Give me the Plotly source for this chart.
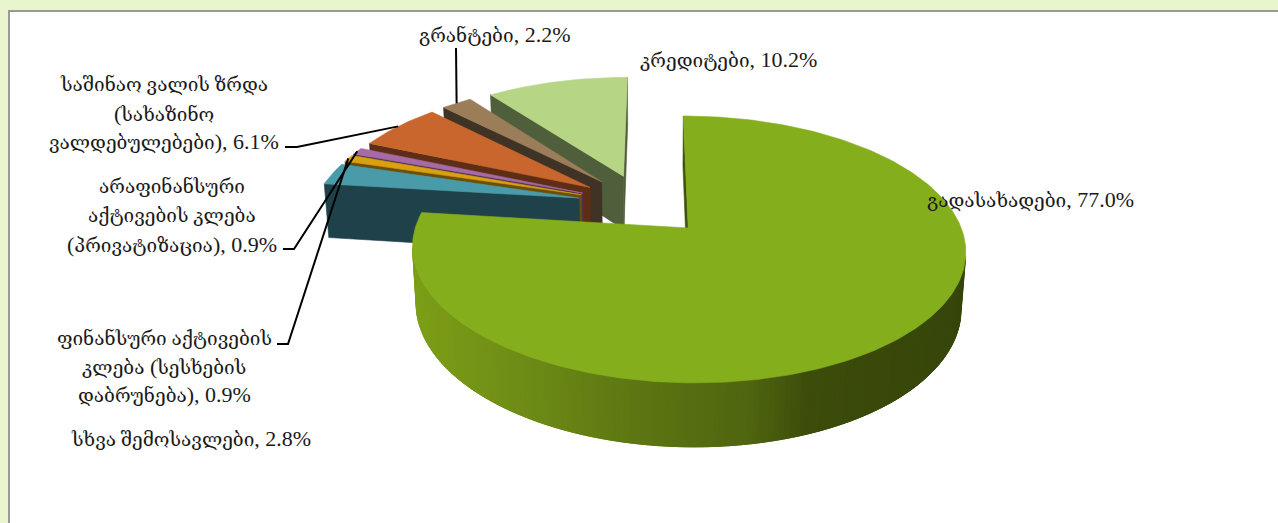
import math
import re
import plotly.graph_objects as go

# Budget revenue shares, clockwise from twelve o'clock
names = [
    "გადასახადები",
    "სხვა შემოსავლები",
    "ფინანსური აქტივების\nკლება (სესხების\nდაბრუნება)",
    "არაფინანსური\nაქტივების კლება\n(პრივატიზაცია)",
    "საშინაო ვალის ზრდა\n(სახაზინო\nვალდებულებები)",
    "გრანტები",
    "კრედიტები",
]
shares = [77.0, 2.8, 0.9, 0.9, 6.1, 2.2, 10.2]
top_colors = ["#84AE1C", "#4A9BA9", "#D9A00F", "#A66BA6", "#C8662E", "#9B7E59", "#B6D585"]
wall_colors = ["#3F5409", "#1F424A", "#6B4E08", "#50304F", "#5E2D15", "#3E3324", "#4F5E3B"]

# Per-label layout: centre x, baseline row y for each text line
label_layout = [
    (1030, [199]),
    (191, [438]),
    (164, [338, 366, 394]),
    (172, [186, 215, 244]),
    (164, [84, 113, 141]),
    (494, [34]),
    (728, [59]),
]
# Leader lines: horizontal stub start and elbow, then on to the slice rim
leaders = {
    2: [(277, 344), (288, 344)],
    3: [(283, 249), (294, 249)],
    4: [(285, 147), (297, 147)],
    5: [(456, 48), (456, 48)],
}

# Projection of the tilted disc
XC, YC = 653, 228
B, C = 273, 35
A, K = 130, 0.161
WALL_D, WALL_M = 57, 0.015
EXPLODE = 0.25
CENTRE = (-0.165, -0.1875)


def project(u, v, low=False):
    d = 1 - K * v + (WALL_M if low else 0)
    x = XC + (B * u + C) / d
    y = YC + (A * v + (WALL_D if low else 0)) / d
    return x, y


def polar(deg):
    t = math.radians(deg)
    return math.sin(t), -math.cos(t)


def lerp_color(stops, x):
    if x <= stops[0][0]:
        return stops[0][1]
    for (x0, c0), (x1, c1) in zip(stops, stops[1:]):
        if x <= x1:
            f = (x - x0) / (x1 - x0)
            a = [int(c0[i:i + 2], 16) for i in (1, 3, 5)]
            b = [int(c1[i:i + 2], 16) for i in (1, 3, 5)]
            return "#%02X%02X%02X" % tuple(round(p + (q - p) * f) for p, q in zip(a, b))
    return stops[-1][1]


# Shading across the curved wall of the largest slice
wall_ramp = [(413, "#7D9E17"), (520, "#6E8C16"), (640, "#5C7612"),
             (750, "#4F650F"), (810, "#3C4C0A"), (970, "#36450A")]

fig = go.Figure()


def patch(pts, color, stroke=0.6):
    xs = [p[0] for p in pts] + [pts[0][0]]
    ys = [p[1] for p in pts] + [pts[0][1]]
    fig.add_trace(go.Scatter(x=xs, y=ys, mode="lines", fill="toself", fillcolor=color,
                             line=dict(color=color, width=stroke), hoverinfo="skip",
                             showlegend=False))


def screen_area(pts):
    return sum(pts[i][0] * pts[(i + 1) % len(pts)][1] - pts[(i + 1) % len(pts)][0] * pts[i][1]
               for i in range(len(pts))) / 2


total = sum(shares)
spans = []
angle = 0.0
for s in shares:
    spans.append((angle, angle + s / total * 360))
    angle = spans[-1][1]

rim_mid = {}
for i in reversed(range(len(shares))):
    a0, a1 = spans[i]
    mid = (a0 + a1) / 2
    mu, mv = polar(mid)
    ou, ov = CENTRE[0] + EXPLODE * mu, CENTRE[1] + EXPLODE * mv
    n = max(4, int(a1 - a0))
    rim = [(ou + polar(a0 + (a1 - a0) * j / n)[0], ov + polar(a0 + (a1 - a0) * j / n)[1])
           for j in range(n + 1)]
    rim_mid[i] = project(ou + mu, ov + mv)

    def wall(p, q, color=None, far=None):
        # far lets a strip run on under its neighbour so no seam shows between them
        end = far or q
        quad = [project(*p), project(*end), project(*end, low=True), project(*p, low=True)]
        if screen_area([project(*p), project(*q), project(*q, low=True), project(*p, low=True)]) < 0:
            patch(quad, color or wall_colors[i])

    # Straight cut faces first, then the curved rim, then the lid
    wall((ou, ov), rim[0])
    wall(rim[-1], (ou, ov))
    for j, (p, q) in enumerate(zip(rim, rim[1:])):
        mx = (project(*p)[0] + project(*q)[0]) / 2
        color = lerp_color(wall_ramp, mx) if i == 0 else wall_colors[i]
        wall(p, q, color, far=rim[min(j + 3, n)])
    patch([project(ou, ov)] + [project(*p) for p in rim], top_colors[i])

# Leader lines
for i, (start, elbow) in leaders.items():
    end = rim_mid[i]
    fig.add_trace(go.Scatter(x=[start[0], elbow[0], end[0]], y=[start[1], elbow[1], end[1]],
                             mode="lines", line=dict(color="#000000", width=2),
                             hoverinfo="skip", showlegend=False))


def styled(line):
    # Georgian runs sit a little smaller than the Latin numerals beside them
    return re.sub("[\u10A0-\u10FF]+(?: [\u10A0-\u10FF]+)*",
                  lambda m: f'<span style="font-size:19px">{m.group(0)}</span>', line)


# Category labels, one annotation per line for the tight leading
annotations = []
for name, value, (cx, rows) in zip(names, shares, label_layout):
    lines = (name + f", {value:.1f}%").split("\n")
    for line, y in zip(lines, rows):
        annotations.append(dict(x=cx, y=y, text=styled(line), xref="x", yref="y", showarrow=False,
                                xanchor="center", yanchor="middle",
                                font=dict(family="Liberation Serif, DejaVu Serif", size=22,
                                          color="#1A1A1A")))

fig.update_layout(
    width=1278, height=523, margin=dict(l=0, r=0, t=0, b=0),
    paper_bgcolor="#E9F5CD", plot_bgcolor="rgba(0,0,0,0)", showlegend=False,
    xaxis=dict(range=[0, 1278], visible=False, fixedrange=True),
    yaxis=dict(range=[523, 0], visible=False, fixedrange=True),
    annotations=annotations,
    shapes=[dict(type="rect", xref="paper", yref="paper", layer="below",
                 x0=9 / 1278, x1=1.01, y0=-0.01, y1=1 - 11 / 523,
                 fillcolor="#FFFFFF", line=dict(color="#999999", width=2))],
)

fig.write_html("out.html")
